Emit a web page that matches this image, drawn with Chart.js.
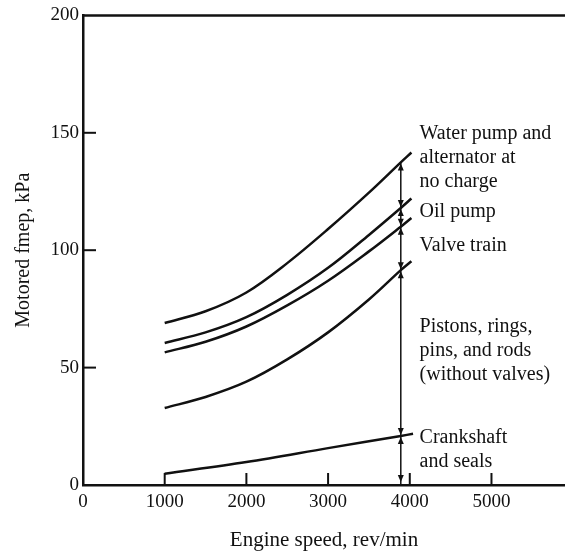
<!DOCTYPE html>
<html lang="en">
  <head>
    <meta charset="UTF-8" />
    <title>Motored fmep breakdown</title>
    <script src="https://cdn.jsdelivr.net/npm/chart.js@4.4.1/dist/chart.umd.min.js"></script>
    <style>
      html,
      body {
        margin: 0;
        padding: 0;
        background: #fff;
      }
      .wrap {
        width: 565px;
        height: 557px;
      }
    </style>
  </head>
  <body>
    <div class="wrap"><canvas id="chart" width="565" height="557"></canvas></div>

    <script>
      // engine speed (rev/min) for the curves
      const speeds = [1000, 1500, 2000, 2500, 3000, 3500, 3890, 4020];
      const waterPump = [69, 74, 82, 94.5, 109, 124.5, 137.4, 141.6];
      const oilPump = [60.5, 65, 71.5, 81, 92.5, 106.5, 118, 122];
      const valveTrain = [56.5, 61, 67.5, 76.5, 87, 99.5, 110, 113.7];
      const pistons = [32.8, 37.5, 44, 53.5, 65, 79, 91.5, 95.3];
      const crankSpeeds = [1000, 2000, 3000, 3890, 4040];
      const crankshaft = [4.8, 9.8, 15.7, 20.9, 21.8];

      const xTicks = [0, 1000, 2000, 3000, 4000, 5000];
      const yTicks = [0, 50, 100, 150, 200];

      // dimension line with arrows at 3890 rev/min
      const dimSpeed = 3890;
      const dimLevels = [0, 20.9, 91.5, 110, 118, 137.4];

      const noteLines = [
        ["Water pump and", "alternator at", "no charge"],
        ["Oil pump"],
        ["Valve train"],
        ["Pistons, rings,", "pins, and rods", "(without valves)"],
        ["Crankshaft", "and seals"],
      ];
      const noteLevels = [149.8, 116.2, 101.7, 67.2, 20];
      const noteSpeed = 4120;

      const ink = "#111";
      const serif = "'Liberation Serif', 'DejaVu Serif', serif";

      const toPoints = (xs, ys) => xs.map((x, i) => ({ x, y: ys[i] }));
      const curve = (xs, ys) => ({
        data: toPoints(xs, ys),
        borderColor: ink,
        borderWidth: 2.5,
        pointRadius: 0,
        fill: false,
        tension: 0.35,
      });

      function arrowHead(ctx, x, y, dir) {
        // dir = -1 points up, 1 points down; tip at (x, y)
        ctx.beginPath();
        ctx.moveTo(x, y);
        ctx.lineTo(x - 3, y - dir * 7);
        ctx.lineTo(x + 3, y - dir * 7);
        ctx.closePath();
        ctx.fill();
      }

      const extras = {
        id: "extras",
        afterDatasetsDraw(chart) {
          const { ctx, chartArea } = chart;
          const xs = chart.scales.x;
          const ys = chart.scales.y;
          ctx.save();
          ctx.strokeStyle = ink;
          ctx.fillStyle = ink;

          // top frame line
          ctx.lineWidth = 2.5;
          ctx.beginPath();
          ctx.moveTo(chartArea.left - 1, chartArea.top);
          ctx.lineTo(chartArea.right, chartArea.top);
          ctx.stroke();

          // inward tick marks
          ctx.lineWidth = 2;
          yTicks.slice(1, -1).forEach((v) => {
            const y = ys.getPixelForValue(v);
            ctx.beginPath();
            ctx.moveTo(chartArea.left, y);
            ctx.lineTo(chartArea.left + 13, y);
            ctx.stroke();
          });
          xTicks.slice(1).forEach((v) => {
            const x = xs.getPixelForValue(v);
            ctx.beginPath();
            ctx.moveTo(x, chartArea.bottom);
            ctx.lineTo(x, chartArea.bottom - 12);
            ctx.stroke();
          });

          // dimension line
          const dx = xs.getPixelForValue(dimSpeed);
          ctx.lineWidth = 1.5;
          ctx.beginPath();
          ctx.moveTo(dx, ys.getPixelForValue(dimLevels[0]));
          ctx.lineTo(dx, ys.getPixelForValue(dimLevels[dimLevels.length - 1]));
          ctx.stroke();
          for (let i = 0; i < dimLevels.length - 1; i++) {
            const lo = ys.getPixelForValue(dimLevels[i]) - (i === 0 ? 3 : 1);
            const hi = ys.getPixelForValue(dimLevels[i + 1]) + 1;
            arrowHead(ctx, dx, hi, -1);
            arrowHead(ctx, dx, lo, 1);
          }

          // notes
          ctx.font = "20px " + serif;
          ctx.textAlign = "left";
          ctx.textBaseline = "middle";
          const nx = xs.getPixelForValue(noteSpeed);
          noteLines.forEach((lines, i) => {
            const y0 = ys.getPixelForValue(noteLevels[i]);
            lines.forEach((t, j) => ctx.fillText(t, nx, y0 + j * 24));
          });
          ctx.restore();
        },
      };

      new Chart(document.getElementById("chart"), {
        type: "line",
        data: {
          datasets: [
            curve(speeds, waterPump),
            curve(speeds, oilPump),
            curve(speeds, valveTrain),
            curve(speeds, pistons),
            curve(crankSpeeds, crankshaft),
          ],
        },
        options: {
          responsive: false,
          animation: false,
          layout: { padding: { top: 15, right: 0, left: 0, bottom: 0 } },
          plugins: { legend: { display: false }, tooltip: { enabled: false } },
          scales: {
            x: {
              type: "linear",
              min: 0,
              max: 5900,
              afterBuildTicks: (s) => (s.ticks = xTicks.map((value) => ({ value }))),
              afterFit: (s) => (s.height = 72),
              grid: { display: false, drawTicks: false },
              border: { display: true, color: ink, width: 2.5 },
              ticks: {
                color: ink,
                padding: 6,
                maxRotation: 0,
                callback: (v) => String(v),
                font: { family: serif, size: 19 },
              },
              title: {
                display: true,
                text: "Engine speed, rev/min",
                color: ink,
                padding: { top: 0, bottom: 4 },
                font: { family: serif, size: 21 },
              },
            },
            y: {
              min: 0,
              max: 200,
              afterBuildTicks: (s) => (s.ticks = yTicks.map((value) => ({ value }))),
              afterFit: (s) => (s.width = 83),
              grid: { display: false, drawTicks: false },
              border: { display: true, color: ink, width: 2.5 },
              ticks: {
                color: ink,
                padding: 4,
                callback: (v) => String(v),
                font: { family: serif, size: 19 },
              },
              title: {
                display: true,
                text: "Motored fmep, kPa",
                color: ink,
                padding: { top: 12, bottom: 0 },
                font: { family: serif, size: 20 },
              },
            },
          },
        },
        plugins: [extras],
      });
    </script>
  </body>
</html>
